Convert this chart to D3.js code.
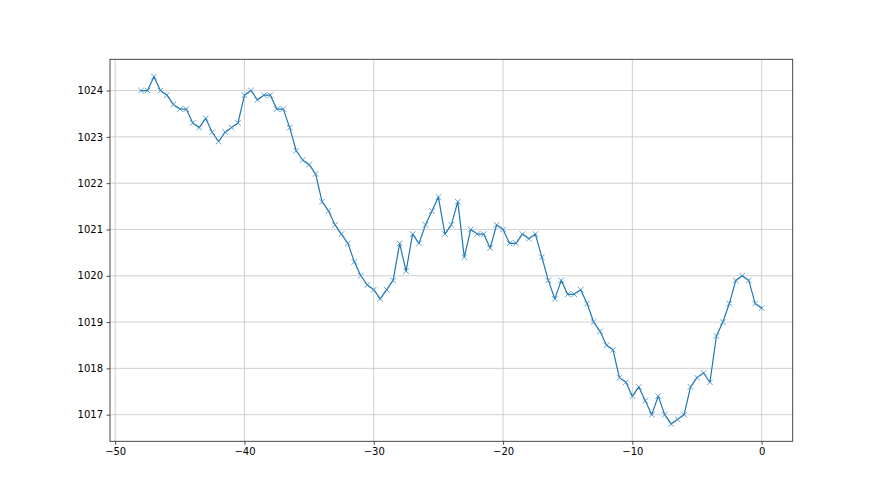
<!DOCTYPE html>
<html>
<head>
<meta charset="utf-8">
<script src="https://cdn.jsdelivr.net/npm/d3@7"></script>
<style>
  html, body { margin: 0; padding: 0; background: #fff; }
  svg { display: block; }
  text { font-family: "DejaVu Sans", sans-serif; font-size: 10px; fill: #000; }
</style>
</head>
<body>
<svg id="chart" width="880" height="495"></svg>
<script>
// x positions (hours), step 0.5 from -48 to 0
const xValues = d3.range(97).map(i => -48 + i * 0.5);
const pressure = [
  1024.0, 1024.0, 1024.3, 1024.0, 1023.9, 1023.7, 1023.6, 1023.6, 1023.3, 1023.2,
  1023.4, 1023.1, 1022.9, 1023.1, 1023.2, 1023.3, 1023.9, 1024.0, 1023.8, 1023.9,
  1023.9, 1023.6, 1023.6, 1023.2, 1022.7, 1022.5, 1022.4, 1022.2, 1021.6, 1021.4,
  1021.1, 1020.9, 1020.7, 1020.3, 1020.0, 1019.8, 1019.7, 1019.5, 1019.7, 1019.9,
  1020.7, 1020.1, 1020.9, 1020.7, 1021.1, 1021.4, 1021.7, 1020.9, 1021.1, 1021.6,
  1020.4, 1021.0, 1020.9, 1020.9, 1020.6, 1021.1, 1021.0, 1020.7, 1020.7, 1020.9,
  1020.8, 1020.9, 1020.4, 1019.9, 1019.5, 1019.9, 1019.6, 1019.6, 1019.7, 1019.4,
  1019.0, 1018.8, 1018.5, 1018.4, 1017.8, 1017.7, 1017.4, 1017.6, 1017.3, 1017.0,
  1017.4, 1017.0, 1016.8, 1016.9, 1017.0, 1017.6, 1017.8, 1017.9, 1017.7, 1018.7,
  1019.0, 1019.4, 1019.9, 1020.0, 1019.9, 1019.4, 1019.3
];
const xTicks = [-50, -40, -30, -20, -10, 0];
const yTicks = [1017, 1018, 1019, 1020, 1021, 1022, 1023, 1024];

const data = xValues.map((x, i) => ({ x, y: pressure[i] }));

const plotL = 110, plotR = 792.7, plotT = 59.3, plotB = 441.3;
const svg = d3.select("#chart");

const xMin = d3.min(xValues), xMax = d3.max(xValues);
const yMin = d3.min(pressure), yMax = d3.max(pressure);
const xPad = (xMax - xMin) * 0.05, yPad = (yMax - yMin) * 0.05;

const x = d3.scaleLinear().domain([xMin - xPad, xMax + xPad]).range([plotL, plotR]);
const y = d3.scaleLinear().domain([yMin - yPad, yMax + yPad]).range([plotB, plotT]);

// grid
const grid = svg.append("g");
grid.selectAll("line.vx").data(xTicks).enter().append("line")
  .attr("x1", d => x(d)).attr("x2", d => x(d))
  .attr("y1", plotT).attr("y2", plotB)
  .attr("stroke", "#c4c4c4").attr("stroke-width", 0.8);
grid.selectAll("line.hy").data(yTicks).enter().append("line")
  .attr("x1", plotL).attr("x2", plotR)
  .attr("y1", d => y(d)).attr("y2", d => y(d))
  .attr("stroke", "#c4c4c4").attr("stroke-width", 0.8);

// line
const line = d3.line().x(d => x(d.x)).y(d => y(d.y));
svg.append("path").datum(data)
  .attr("d", line)
  .attr("fill", "none")
  .attr("stroke", "#1f77b4")
  .attr("stroke-width", 1.2)
  .attr("stroke-linejoin", "round")
  .attr("stroke-linecap", "square");

// x markers
const m = 2.8;
const markers = svg.append("g");
markers.selectAll("path").data(data).enter().append("path")
  .attr("d", d => {
    const cx = x(d.x), cy = y(d.y);
    return `M${cx - m},${cy - m}L${cx + m},${cy + m}M${cx - m},${cy + m}L${cx + m},${cy - m}`;
  })
  .attr("stroke", "#3a8ac4")
  .attr("stroke-width", 0.8)
  .attr("fill", "none");

// axes
const xAxis = d3.axisBottom(x).tickValues(xTicks).tickSize(3.5).tickPadding(3.5).tickFormat(d3.format("d"));
const yAxis = d3.axisLeft(y).tickValues(yTicks).tickSize(3.5).tickPadding(3.5).tickFormat(d3.format("d"));

const gx = svg.append("g").attr("transform", `translate(0,${plotB})`).call(xAxis);
const gy = svg.append("g").attr("transform", `translate(${plotL},0)`).call(yAxis);
[gx, gy].forEach(g => {
  g.select(".domain").remove();
  g.selectAll(".tick line").attr("stroke", "#222").attr("stroke-width", 0.8);
  g.selectAll(".tick text").attr("font-family", "DejaVu Sans, sans-serif").attr("font-size", 9.5).attr("fill", "#111");
});

// frame
svg.append("rect")
  .attr("x", plotL).attr("y", plotT)
  .attr("width", plotR - plotL).attr("height", plotB - plotT)
  .attr("fill", "none").attr("stroke", "#333").attr("stroke-width", 0.9);
</script>
</body>
</html>
